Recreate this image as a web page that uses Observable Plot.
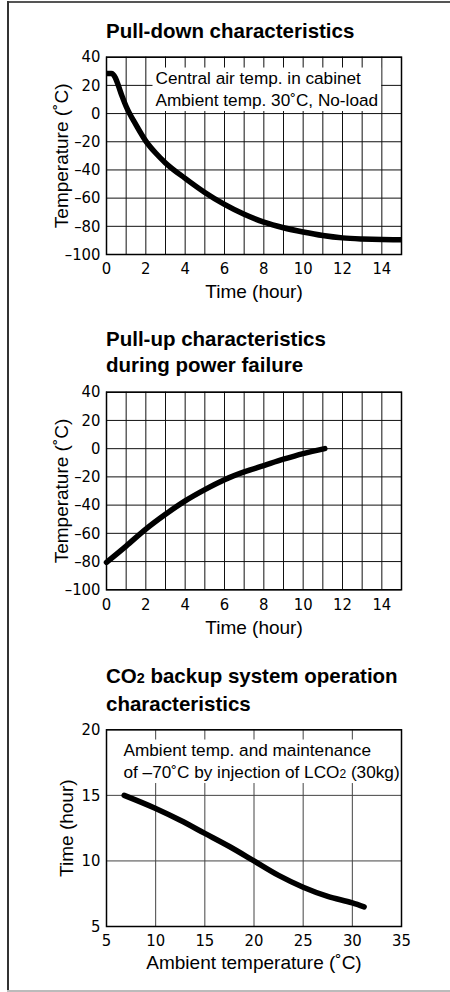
<!DOCTYPE html>
<html><head><meta charset="utf-8">
<script src="https://cdn.jsdelivr.net/npm/d3@7"></script>
<script src="https://cdn.jsdelivr.net/npm/@observablehq/plot@0.6"></script>
<style>
body{margin:0;background:#fff;}
#wrap{position:relative;width:450px;height:992px;overflow:hidden;background:#fff;font-family:"Liberation Sans",Arial,sans-serif;}
.bl{position:absolute;}
.title{position:absolute;left:106px;font-weight:bold;font-size:20.5px;line-height:26.3px;color:#000;white-space:nowrap;}
.chart{position:absolute;left:0;}
.chart svg{background:transparent;}
</style></head><body>
<div id="wrap">
  <div class="bl" style="left:7px;top:1px;width:443px;height:2px;background:#555;"></div>
  <div class="bl" style="left:7px;top:1px;width:2px;height:991px;background:#333;"></div>
  <div class="bl" style="left:7px;top:990px;width:443px;height:1.5px;background:#bbb;"></div>
  <div class="title" id="t1" style="top:18px;"></div>
  <div class="title" id="t2" style="top:326px;"></div>
  <div class="title" id="t3" style="top:663px;"></div>
  <div class="chart" id="c1" style="top:0px;"></div>
  <div class="chart" id="c2" style="top:320px;"></div>
  <div class="chart" id="c3" style="top:650px;"></div>
</div>
<script>
// ---- Data ----
const titles = [
  "Pull-down characteristics",
  "Pull-up characteristics\nduring power failure",
  "CO2 backup system operation\ncharacteristics"
];

// Chart 1: pull-down
const pullDownTime = [0, 0.25, 0.45, 0.6, 0.8, 1, 1.5, 2, 2.5, 3, 4, 5, 6, 7, 8, 9, 10, 11, 12, 13, 14, 15];
const pullDownTemp = [28.5, 28.5, 25.5, 20, 12, 5, -8, -19.5, -28, -35, -46, -56, -64.5, -71.5, -77, -81, -84, -86.5, -88.2, -89, -89.4, -89.5];
const timeTicks = [0, 2, 4, 6, 8, 10, 12, 14];
const timeGrid = [0, 1, 2, 3, 4, 5, 6, 7, 8, 9, 10, 11, 12, 13, 14, 15];
const tempTicks = [-100, -80, -60, -40, -20, 0, 20, 40];
const pullDownNote = "Central air temp. in cabinet\nAmbient temp. 30˚C, No-load";

// Chart 2: pull-up during power failure
const pullUpTime = [0, 1, 2, 3, 4, 5, 6, 7, 8, 9, 10, 11.1];
const pullUpTemp = [-80.5, -69, -57, -46.5, -37, -29, -22, -16.5, -12, -7.5, -3.5, 0];

// Chart 3: CO2 backup
const co2Ambient = [6.8, 10, 12.5, 15, 17.5, 20, 22.5, 25, 27.5, 30, 31.2];
const co2Hours = [15, 14, 13.1, 12.1, 11.1, 10, 8.9, 8, 7.3, 6.8, 6.5];
const ambientTicks = [5, 10, 15, 20, 25, 30, 35];
const hourTicks = [5, 10, 15, 20];
const co2Note = "Ambient temp. and maintenance\nof –70˚C by injection of LCO2 (30kg)";

const axisLabels = {
  time: "Time (hour)",
  temp: "Temperature (˚C)",
  ambient: "Ambient temperature (˚C)"
};

// ---- Helpers ----
const narrow = "'Liberation Sans Narrow','Arial Narrow','DejaVu Sans Condensed',sans-serif";
const sans = "'Liberation Sans',Arial,Helvetica,sans-serif";
const fmt = d => d < 0 ? "–" + Math.abs(d) : String(d);
const SVGNS = "http://www.w3.org/2000/svg";

function smallTwo(root) {
  root.querySelectorAll("text, tspan").forEach(el => {
    if (el.children.length === 0 && el.textContent.includes("CO2")) {
      const parts = el.textContent.split("CO2");
      el.textContent = "";
      parts.forEach((p, i) => {
        el.appendChild(document.createTextNode(p + (i < parts.length - 1 ? "CO" : "")));
        if (i < parts.length - 1) {
          const t = document.createElementNS(SVGNS, "tspan");
          t.setAttribute("font-size", "70%");
          t.textContent = "2";
          el.appendChild(t);
        }
      });
    }
  });
}

// white box behind the annotation, sized from the rendered text
function noteBox(svg, note) {
  if (!note) return;
  const first = note.split("\n")[0];
  const text = Array.from(svg.querySelectorAll("text")).find(t => t.textContent.startsWith(first));
  if (!text) return;
  const g = text.parentNode;
  const bb = text.getBBox();
  const r = document.createElementNS(SVGNS, "rect");
  const tr = text.getAttribute("transform");
  if (tr) r.setAttribute("transform", tr);
  r.setAttribute("x", bb.x - 3);
  r.setAttribute("y", bb.y);
  r.setAttribute("width", bb.width + 6);
  r.setAttribute("height", bb.height + 1.5);
  r.setAttribute("fill", "white");
  r.setAttribute("stroke", "none");
  g.insertBefore(r, text);
}

function setTitle(id, text) {
  const el = document.getElementById(id);
  el.innerHTML = text.split("\n").map(s => s.replace("CO2", 'CO<span style="font-size:70%">2</span>')).join("<br>");
}
setTitle("t1", titles[0]);
setTitle("t2", titles[1]);
setTitle("t3", titles[2]);

function makeChart(o) {
  const rows = o.xs.map((x, i) => ({x, y: o.ys[i]}));
  const marks = [
    Plot.ruleX(o.xGrid, {stroke: o.gridColor, strokeWidth: 1}),
    Plot.ruleY(o.yGrid, {stroke: o.gridColor, strokeWidth: 1}),
  ];
  if (o.note) {
    marks.push(Plot.text([o.note], {
      text: d => d, frameAnchor: "top-left", textAnchor: "start", lineAnchor: "top",
      dx: o.noteDx, dy: o.noteDy, lineHeight: 22 / 17.2, fontSize: 17.2, fontFamily: sans,
      fill: "black"
    }));
  }
  marks.push(
    Plot.line(rows, {x: "x", y: "y", curve: "monotone-x", stroke: "black", strokeWidth: o.lineWidth, strokeLinecap: o.cap, clip: o.clip}),
    Plot.frame({stroke: "black", strokeWidth: 1.5}),
    Plot.axisX(o.xTicks, {tickSize: 0, tickPadding: 8, fontSize: 16.5, fontFamily: narrow, tickFormat: fmt, label: null}),
    Plot.axisY(o.yTicks, {tickSize: 0, tickPadding: 6, fontSize: 16.5, fontFamily: narrow, tickFormat: fmt, label: null}),
    Plot.text([o.xLabel], {text: d => d, frameAnchor: "bottom", textAnchor: "middle", lineAnchor: "bottom", dy: o.xLabelDy, fontSize: 19, fontFamily: sans, fill: "black"}),
    Plot.text([o.yLabel], {text: d => d, frameAnchor: "left", textAnchor: "middle", lineAnchor: "middle", rotate: -90, dx: o.yLabelDx, fontSize: 19, fontFamily: sans, fill: "black"})
  );
  const p = Plot.plot({
    width: 450, height: o.height,
    marginLeft: 106, marginRight: 49, marginTop: o.marginTop, marginBottom: o.marginBottom,
    x: {domain: o.xDomain},
    y: {domain: o.yDomain},
    style: {background: "transparent", color: "black", fontFamily: narrow},
    marks
  });
  smallTwo(p);
  document.getElementById(o.id).appendChild(p);
  noteBox(p, o.note);
}

makeChart({
  id: "c1", height: 310, marginTop: 56.7, marginBottom: 56,
  xDomain: [0, 15], yDomain: [-100, 40],
  xGrid: timeGrid, yGrid: tempTicks, xTicks: timeTicks, yTicks: tempTicks,
  xs: pullDownTime, ys: pullDownTemp, lineWidth: 5.5, cap: "butt", clip: true,
  gridColor: "#111", note: pullDownNote, noteDx: 49, noteDy: 10.7,
  xLabel: axisLabels.time, yLabel: axisLabels.temp, xLabelDy: 43, yLabelDx: -44.5
});

makeChart({
  id: "c2", height: 330, marginTop: 71.7, marginBottom: 60.7,
  xDomain: [0, 15], yDomain: [-100, 40],
  xGrid: timeGrid, yGrid: tempTicks, xTicks: timeTicks, yTicks: tempTicks,
  xs: pullUpTime, ys: pullUpTemp, lineWidth: 5.5, cap: "round", clip: false,
  gridColor: "#111", note: null,
  xLabel: axisLabels.time, yLabel: axisLabels.temp, xLabelDy: 43.7, yLabelDx: -44.5
});

makeChart({
  id: "c3", height: 330, marginTop: 79.3, marginBottom: 54,
  xDomain: [5, 35], yDomain: [5, 20],
  xGrid: ambientTicks, yGrid: hourTicks, xTicks: ambientTicks, yTicks: hourTicks,
  xs: co2Ambient, ys: co2Hours, lineWidth: 5.5, cap: "round", clip: false,
  gridColor: "#444", note: co2Note, noteDx: 17, noteDy: 10.1,
  xLabel: axisLabels.ambient, yLabel: axisLabels.time, xLabelDy: 42, yLabelDx: -40
});
</script>
</body></html>
